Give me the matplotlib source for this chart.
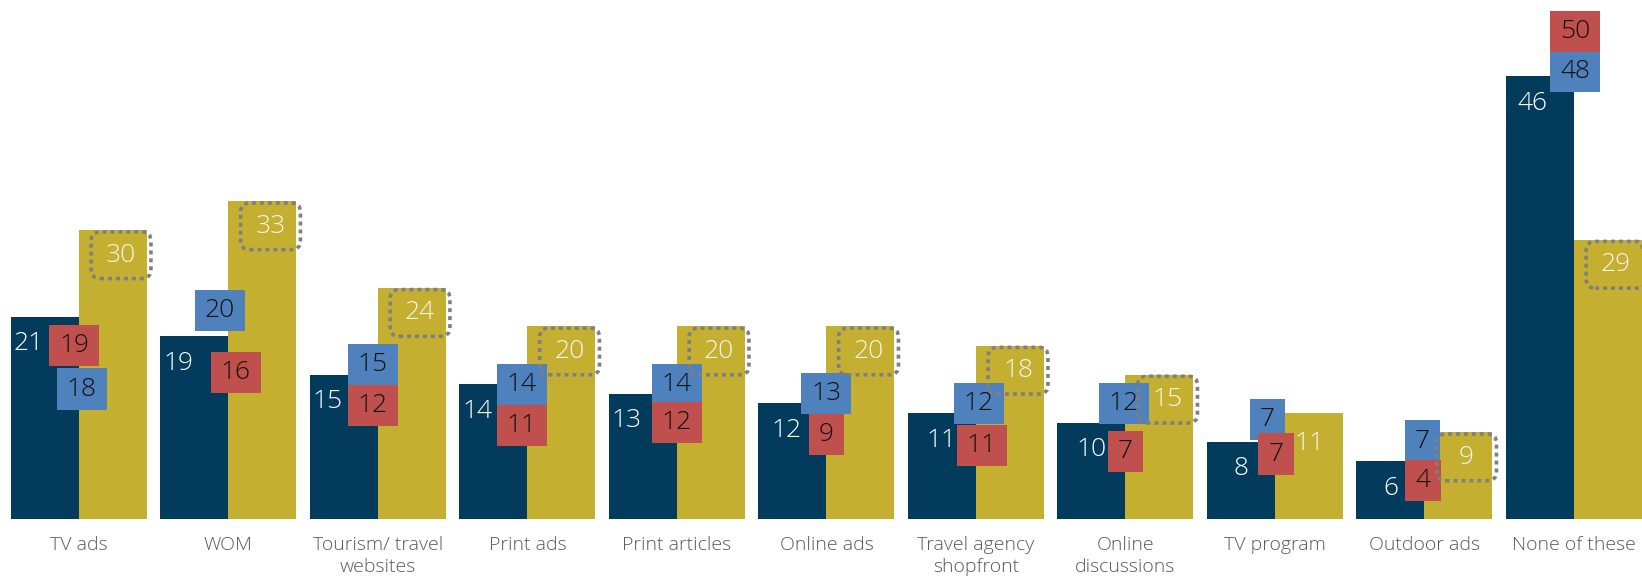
import matplotlib
matplotlib.use("Agg")
import matplotlib.pyplot as plt
from matplotlib.patches import Rectangle, FancyBboxPatch

# Data per channel
categories = ["TV ads", "WOM", "Tourism/ travel\nwebsites", "Print ads", "Print articles",
              "Online ads", "Travel agency\nshopfront", "Online\ndiscussions", "TV program",
              "Outdoor ads", "None of these"]
navy_vals = [21, 19, 15, 14, 13, 12, 11, 10, 8, 6, 46]
gold_vals = [30, 33, 24, 20, 20, 20, 18, 15, 11, 9, 29]
blue_vals = [18, 20, 15, 14, 14, 13, 12, 12, 7, 7, 48]
red_vals = [19, 16, 12, 11, 12, 9, 11, 7, 7, 4, 50]
gold_boxed = [True, True, True, True, True, True, True, True, False, True, True]

# label nudges so the squares don't sit on top of each other
blue_dx = [0.02, -0.057, -0.033, -0.037, 0, 0, 0.02, -0.01, -0.05, -0.013, 0.007]
blue_dy = [-4.5, 1.7, 1.0, 0, 0, 0, 0, 0, 3.3, 1.1, -1.5]
red_dx = [-0.033, 0.05, -0.033, -0.037, 0, 0, 0.04, 0, 0.007, -0.007, 0.007]
red_dy = [-1.0, -0.8, -0.2, -1.3, -2.0, -0.2, -3.4, 0, -0.25, 0, 0.6]
navy_dx = [-0.107, -0.107, -0.107, -0.107, -0.107, -0.037, 0, 0, 0, 0, -0.05]

NAVY = "#023b5c"
GOLD = "#c4af30"
BLUE = "#4f81bd"
RED = "#c0504d"
FONT = "Open Sans"

fig = plt.figure(figsize=(16.42, 5.77), dpi=100)
ax = fig.add_axes([0, 58 / 577, 1, 519 / 577])
ax.set_xlim(-0.528, 10.455)
ax.set_ylim(0, 53.9)
ax.axis("off")

w = 0.455
x = list(range(len(categories)))
ax.bar([i - w / 2 for i in x], navy_vals, width=w, color=NAVY, zorder=1)
ax.bar([i + w / 2 for i in x], gold_vals, width=w, color=GOLD, zorder=1)

num_kw = dict(fontsize=19, family=FONT, fontweight="light", ha="center", va="center")

for i in x:
    # navy value, inside the top of the bar
    ax.text(i - w / 2 + navy_dx[i], navy_vals[i] - 2.8, str(navy_vals[i]),
            color="white", zorder=5, **num_kw)

    # blue and red squares
    for v, dx, dy, col, z in [(blue_vals[i], blue_dx[i], blue_dy[i], BLUE, 3),
                              (red_vals[i], red_dx[i], red_dy[i], RED, 4)]:
        sw = 0.334 if v >= 10 else 0.24
        cx, cy = i + dx, v + dy
        ax.add_patch(Rectangle((cx - sw / 2, cy - 2.13), sw, 4.26, color=col,
                               linewidth=0, zorder=z))
        ax.text(cx, cy, str(v), color="#111111", zorder=z, **num_kw)

    # gold value, in a dotted rounded box near the top of the bar
    gx = i + w / 2 + 0.054
    gy = gold_vals[i] - 2.6
    if gold_boxed[i]:
        bw, bh = 0.40, 4.85
        ax.add_patch(FancyBboxPatch((gx - bw / 2, gy - bh / 2), bw, bh,
                                    boxstyle="round,pad=0,rounding_size=0.06",
                                    mutation_aspect=149.5 / 9.63,
                                    fill=False, edgecolor="#7f7f7f", linewidth=2.6,
                                    linestyle=(0, (1.1, 1.1)), zorder=6))
    else:
        gx = i + w / 2
        gy = gold_vals[i] - 3.2
    ax.text(gx, gy, str(gold_vals[i]), color="#f7f5ea", zorder=7, **num_kw)

    ax.text(i, -1.75, categories[i], fontsize=14, family=FONT, fontweight="light",
            color="#595959", ha="center", va="top", linespacing=1.3, clip_on=False)

fig.savefig("out.png", dpi=100)
